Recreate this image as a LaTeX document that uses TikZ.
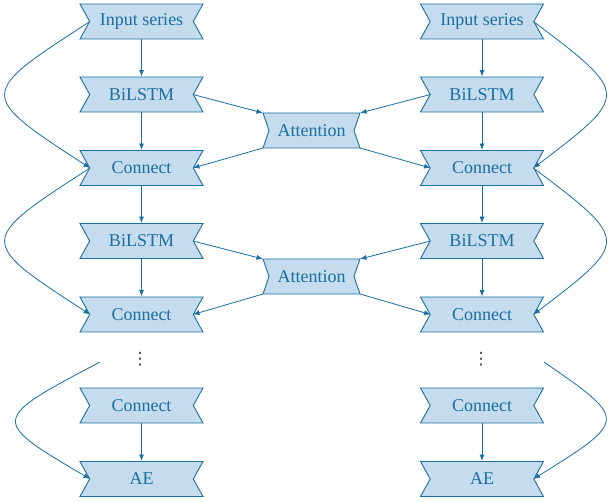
\documentclass[tikz,border=0pt]{standalone}
\usepackage{fontspec}
\setmainfont{Liberation Serif}
\newfontfamily\dvfont{DejaVu Sans}
\usetikzlibrary{shapes.symbols,arrows.meta,calc}
\definecolor{lnc}{RGB}{26,110,160}
\definecolor{fll}{RGB}{197,220,238}
\begin{document}
\begin{tikzpicture}[x=1pt,y=-1pt,
  band/.style={signal, signal from=west and east, signal to=nowhere,
    signal pointer angle=122, draw=lnc, fill=fll, line width=0.9pt, text=lnc,
    minimum width=123pt, minimum height=35pt, inner sep=0pt,
    font=\fontsize{18}{20}\selectfont},
  attbox/.style={band, signal pointer angle=142, minimum width=97pt},
  arr/.style={draw=lnc, line width=0.8pt, -{Latex[length=6.5pt,width=5pt]}},
  dotsty/.style={inner sep=0pt, text=black!75, font=\dvfont\fontsize{17}{17}\selectfont}]
\useasboundingbox (0,0) rectangle (608,502);
% left column
\node[band] (li) at (141.5,21.5) {Input series};
\node[band] (lb1) at (141.5,94.5) {BiLSTM};
\node[band] (lc1) at (141.5,168) {Connect};
\node[band] (lb2) at (141.5,241) {BiLSTM};
\node[band] (lc2) at (141.5,314.5) {Connect};
\node[dotsty] (ld) at (140,359) {⋮};
\node[band] (lc3) at (141.5,405.5) {Connect};
\node[band] (lae) at (141.5,479) {AE};
% right column
\node[band] (ri) at (482,21.5) {Input series};
\node[band] (rb1) at (482,94.5) {BiLSTM};
\node[band] (rc1) at (482,168) {Connect};
\node[band] (rb2) at (482,241) {BiLSTM};
\node[band] (rc2) at (482,314.5) {Connect};
\node[dotsty] (rd) at (481,359) {⋮};
\node[band] (rc3) at (482,405.5) {Connect};
\node[band] (rae) at (482,479) {AE};
% attention
\node[attbox] (a1) at (311.5,130.5) {Attention};
\node[attbox] (a2) at (311.5,276.5) {Attention};
% free ends
\coordinate (lf) at (100,362);
\coordinate (rf) at (544,362);
% vertical arrows
\foreach \s/\t in {li/lb1,lb1/lc1,lc1/lb2,lb2/lc2,lc3/lae,ri/rb1,rb1/rc1,rc1/rb2,rb2/rc2,rc3/rae}
  \draw[arr] (\s.south) -- (\t.north);
% attention connections
\draw[arr] ($(lb1.center)+(51.5,0)$) -- ($(a1.center)+(-48.5,-17.5)$);
\draw[arr] ($(rb1.center)+(-51.5,0)$) -- ($(a1.center)+(48.5,-17.5)$);
\draw[arr] ($(a1.center)+(-48.5,17.5)$) -- ($(lc1.center)+(51.5,0)$);
\draw[arr] ($(a1.center)+(48.5,17.5)$) -- ($(rc1.center)+(-51.5,0)$);
\draw[arr] ($(lb2.center)+(51.5,0)$) -- ($(a2.center)+(-48.5,-17.5)$);
\draw[arr] ($(rb2.center)+(-51.5,0)$) -- ($(a2.center)+(48.5,-17.5)$);
\draw[arr] ($(a2.center)+(-48.5,17.5)$) -- ($(lc2.center)+(51.5,0)$);
\draw[arr] ($(a2.center)+(48.5,17.5)$) -- ($(rc2.center)+(-51.5,0)$);
% skip curves left
\draw[arr] ($(li.center)+(-51.5,0)$) .. controls (-23,94.5) .. ($(lc1.center)+(-51.5,0)$);
\draw[arr] ($(lc1.center)+(-51.5,0)$) .. controls (-23,241) .. ($(lc2.center)+(-51.5,0)$);
\draw[arr] (lf) .. controls (-10,420) .. ($(lae.center)+(-51.5,0)$);
% skip curves right
\draw[arr] ($(ri.center)+(51.5,0)$) .. controls (630,94.5) .. ($(rc1.center)+(51.5,0)$);
\draw[arr] ($(rc1.center)+(51.5,0)$) .. controls (630,241) .. ($(rc2.center)+(51.5,0)$);
\draw[arr] (rf) .. controls (628,420) .. ($(rae.center)+(51.5,0)$);
\end{tikzpicture}
\end{document}
